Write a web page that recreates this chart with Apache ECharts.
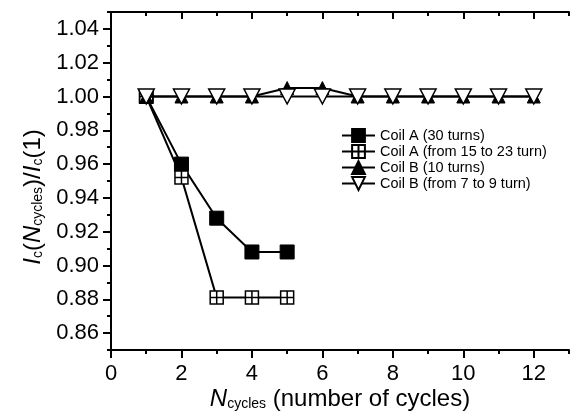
<!DOCTYPE html>
<html>
<head>
<meta charset="utf-8">
<script src="https://cdn.jsdelivr.net/npm/echarts@6/dist/echarts.min.js"></script>
<style>
  html, body { margin: 0; padding: 0; background: #fff; }
  #main { width: 571px; height: 416px; }
</style>
</head>
<body>
<div id="main"></div>
<script>
// data
var cyclesA = [1, 2, 3, 4, 5];
var cyclesB = [1, 2, 3, 4, 5, 6, 7, 8, 9, 10, 11, 12];
var coilA30 = [1.000, 0.960, 0.928, 0.908, 0.908];
var coilA15to23 = [1.000, 0.952, 0.881, 0.881, 0.881];
var coilB10 = [1.000, 1.000, 1.000, 1.000, 1.005, 1.005, 1.000, 1.000, 1.000, 1.000, 1.000, 1.000];
var coilB7to9 = [1.000, 1.000, 1.000, 1.000, 1.000, 1.000, 1.000, 1.000, 1.000, 1.000, 1.000, 1.000];
var seriesNames = ['Coil A (30 turns)', 'Coil A (from 15 to 23 turn)', 'Coil B (10 turns)', 'Coil B (from 7 to 9 turn)'];
var xMajor = [0, 2, 4, 6, 8, 10, 12];
var xMinor = [1, 3, 5, 7, 9, 11, 13];
var yMajor = [0.86, 0.88, 0.90, 0.92, 0.94, 0.96, 0.98, 1.00, 1.02, 1.04];
var yMinor = [0.85, 0.87, 0.89, 0.91, 0.93, 0.95, 0.97, 0.99, 1.01, 1.03, 1.05];

var FONT = '"Liberation Sans", Arial, sans-serif';

function pairs(xs, ys) {
  var out = [];
  for (var i = 0; i < xs.length; i++) out.push([xs[i], ys[i]]);
  return out;
}

var myChart = echarts.init(document.getElementById('main'));

function xAx(pos, ticks, len, inside, labels, show) {
  return {
    type: 'value', position: pos, min: 0, max: 13,
    axisLine: { show: show, lineStyle: { color: '#000', width: 2 } },
    axisTick: { show: true, inside: inside, length: len, customValues: ticks, lineStyle: { color: '#000', width: 2 } },
    axisLabel: labels ? { show: true, customValues: xMajor, margin: 13, color: '#000', fontSize: 22, fontFamily: FONT } : { show: false },
    splitLine: { show: false }
  };
}
function yAx(pos, ticks, len, inside, labels, show) {
  return {
    type: 'value', position: pos, min: 0.85, max: 1.05,
    axisLine: { show: show, lineStyle: { color: '#000', width: 2 } },
    axisTick: { show: true, inside: inside, length: len, customValues: ticks, lineStyle: { color: '#000', width: 2 } },
    axisLabel: labels ? { show: true, customValues: yMajor, margin: 12, color: '#000', fontSize: 22, fontFamily: FONT,
      formatter: function (v) { return v.toFixed(2); } } : { show: false },
    splitLine: { show: false }
  };
}

var titleRich = {
  i: { fontSize: 24, fontStyle: 'italic', fontFamily: FONT, verticalAlign: 'top', lineHeight: 24 },
  n: { fontSize: 24, fontFamily: FONT, verticalAlign: 'top', lineHeight: 24 },
  sub: { fontSize: 14, fontFamily: FONT, verticalAlign: 'bottom', lineHeight: 14, padding: [16, 0, 0, 0] }
};

var xMain = xAx('bottom', xMajor, 8, false, true, true);
xMain.name = '{i|N}{sub|cycles}{n| (number of cycles)}';
xMain.nameLocation = 'middle';
xMain.nameGap = 37;
xMain.nameMoveOverlap = false;
xMain.nameTextStyle = { color: '#000', fontFamily: FONT, rich: titleRich };

var yMain = yAx('left', yMajor, 8, false, true, true);
yMain.name = '{i|I}{sub|c}{n|(}{i|N}{sub|cycles}{n|)/}{i|I}{sub|c}{n|(1)}';
yMain.nameLocation = 'middle';
yMain.nameGap = 66;
yMain.nameTextStyle = { color: '#000', fontFamily: FONT, padding: [0, 32, 0, 0], rich: titleRich };

var lineW = 2;
var option = {
  animation: false,
  backgroundColor: '#fff',
  grid: { left: 111, right: 2, top: 12, bottom: 66, outerBoundsMode: 'none', containLabel: false },
  legend: {
    orient: 'vertical', left: 336, top: 123,
    itemWidth: 33, itemHeight: 16, itemGap: 1,
    textStyle: { color: '#000', fontSize: 14.5, fontFamily: FONT },
    data: seriesNames
  },
  xAxis: [
    xMain,
    xAx('bottom', xMinor, 4, false, false, false),
    xAx('top', xMajor, 7, true, false, true),
    xAx('top', xMinor, 4, true, false, false)
  ],
  yAxis: [
    yMain,
    yAx('left', yMinor, 4, false, false, false),
    yAx('right', yMajor, 7, true, false, true),
    yAx('right', yMinor, 4, true, false, false)
  ],
  series: [
    {
      name: seriesNames[0], type: 'line', data: pairs(cyclesA, coilA30),
      symbol: 'rect', symbolSize: 14, z: 2,
      lineStyle: { color: '#000', width: lineW },
      itemStyle: { color: '#000', borderColor: '#000', borderWidth: 1 }
    },
    {
      name: seriesNames[1], type: 'line', data: pairs(cyclesA, coilA15to23),
      symbol: 'path://M0,0H10V10H0Z M5,0V10 M0,5H10', symbolSize: 13, z: 3,
      lineStyle: { color: '#000', width: lineW },
      itemStyle: { color: '#fff', borderColor: '#000', borderWidth: 1.5 }
    },
    {
      name: seriesNames[2], type: 'line', data: pairs(cyclesB, coilB10),
      symbol: 'triangle', symbolSize: 13, z: 4,
      lineStyle: { color: '#000', width: lineW },
      itemStyle: { color: '#000', borderColor: '#000', borderWidth: 1 }
    },
    {
      name: seriesNames[3], type: 'line', data: pairs(cyclesB, coilB7to9),
      symbol: 'path://M0,0L10,0L5,10Z', symbolSize: [16, 15], z: 5,
      lineStyle: { color: '#000', width: lineW },
      itemStyle: { color: '#fff', borderColor: '#000', borderWidth: 1.5 }
    }
  ]
};

myChart.setOption(option, true);
</script>
</body>
</html>
